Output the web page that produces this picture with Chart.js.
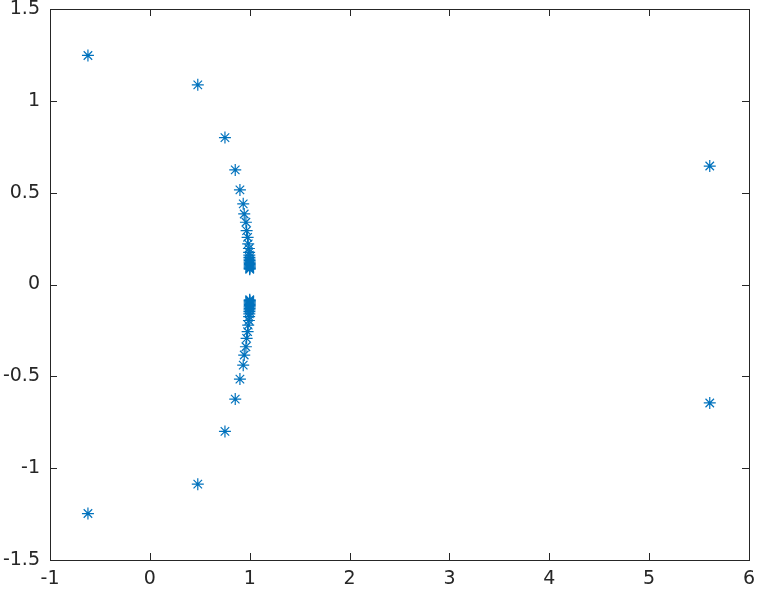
<!DOCTYPE html>
<html><head><meta charset="utf-8">
<script src="https://cdn.jsdelivr.net/npm/chart.js@4"></script>
<style>html,body{margin:0;padding:0;background:#fff}#wrap{width:757px;height:591px}</style>
</head><body><div id="wrap"><canvas id="c" width="757" height="591"></canvas></div>
<script>
// upper-half roots (real, imag); lower half is the conjugate
const realParts = [-0.62, 0.48, 0.752, 0.855, 0.902, 0.935, 0.945, 0.962, 0.969, 0.979, 0.985, 0.992,
  0.994, 0.996, 0.997, 0.998, 0.999, 0.999, 1.0, 1.0, 1.0, 1.0, 1.0, 1.0, 1.0, 5.607];
const imagParts = [1.247, 1.087, 0.80, 0.624, 0.515, 0.439, 0.384, 0.339, 0.293, 0.257, 0.221, 0.196,
  0.175, 0.16, 0.148, 0.138, 0.13, 0.122, 0.115, 0.108, 0.102, 0.096, 0.091, 0.087, 0.083, 0.645];
const xTicks = [-1, 0, 1, 2, 3, 4, 5, 6];
const yTicks = [-1.5, -1, -0.5, 0, 0.5, 1, 1.5];

const pts = [];
realParts.forEach((r, i) => { pts.push({x: r, y: imagParts[i]}); pts.push({x: r, y: -imagParts[i]}); });

const axisColor = '#262626';
const boxPlugin = {
  id: 'box',
  afterDraw(chart) {
    const {ctx, chartArea: a, scales: {x, y}} = chart;
    ctx.save();
    ctx.strokeStyle = axisColor; ctx.lineWidth = 1;
    ctx.strokeRect(Math.round(a.left) + 0.5, Math.round(a.top) + 0.5, Math.round(a.right - a.left), Math.round(a.bottom - a.top));
    const L = 7;
    ctx.beginPath();
    xTicks.forEach(v => {
      const px = Math.round(x.getPixelForValue(v)) + 0.5;
      ctx.moveTo(px, a.bottom); ctx.lineTo(px, a.bottom - L);
      ctx.moveTo(px, a.top); ctx.lineTo(px, a.top + L);
    });
    yTicks.forEach(v => {
      const py = Math.round(y.getPixelForValue(v)) + 0.5;
      ctx.moveTo(a.left, py); ctx.lineTo(a.left + L, py);
      ctx.moveTo(a.right, py); ctx.lineTo(a.right - L, py);
    });
    ctx.stroke();
    ctx.restore();
  }
};

new Chart(document.getElementById('c'), {
  type: 'scatter',
  data: { datasets: [{ data: pts, pointStyle: 'star', radius: 6, borderColor: '#0072BD', backgroundColor: '#0072BD', borderWidth: 1.2 }] },
  options: {
    responsive: false, animation: false, devicePixelRatio: 1,
    layout: { padding: { top: 9, right: 8, left: 0, bottom: 0 } },
    plugins: { legend: { display: false }, tooltip: { enabled: false } },
    scales: {
      x: {
        type: 'linear', min: -1, max: 6,
        afterBuildTicks: s => { s.ticks = xTicks.map(v => ({value: v})); },
        afterFit: s => { s.height = 31; s.paddingLeft = 0; s.paddingRight = 0; },
        grid: { display: false, drawTicks: false },
        border: { display: false },
        ticks: { color: axisColor, font: { family: 'DejaVu Sans', size: 19 }, padding: 8, maxRotation: 0, autoSkip: false, callback: v => String(v) }
      },
      y: {
        type: 'linear', min: -1.5, max: 1.5,
        afterBuildTicks: s => { s.ticks = yTicks.map(v => ({value: v})); },
        afterFit: s => { s.width = 50; s.paddingTop = 0; s.paddingBottom = 0; },
        grid: { display: false, drawTicks: false },
        border: { display: false },
        ticks: { color: axisColor, font: { family: 'DejaVu Sans', size: 19 }, padding: 10, autoSkip: false, callback: v => String(v) }
      }
    }
  },
  plugins: [boxPlugin]
});
</script></body></html>
